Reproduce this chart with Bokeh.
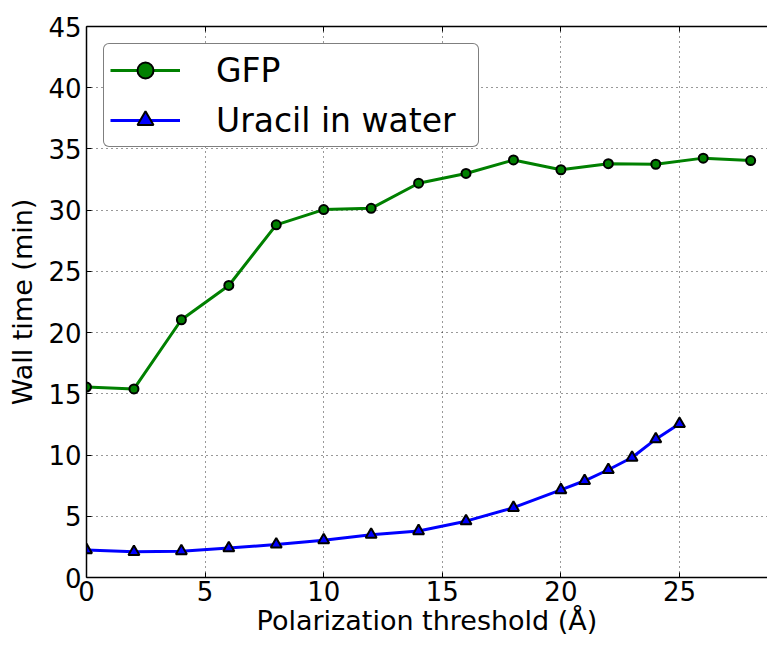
from bokeh.plotting import figure
from bokeh.models import Legend, LegendItem, LinearAxis, FixedTicker, Range1d
from bokeh.embed import file_html
from bokeh.resources import INLINE

# ---- data ----
gfp_x = [0, 2, 4, 6, 8, 10, 12, 14, 16, 18, 20, 22, 24, 26, 28]
gfp_y = [15.55, 15.4, 21.05, 23.85, 28.8, 30.05, 30.15, 32.2, 33.0, 34.1, 33.3, 33.8, 33.75, 34.25, 34.05]

uracil_x = [0, 2, 4, 6, 8, 10, 12, 14, 16, 18, 20, 21, 22, 23, 24, 25]
uracil_y = [2.25, 2.1, 2.15, 2.4, 2.7, 3.05, 3.5, 3.8, 4.6, 5.7, 7.15, 7.9, 8.8, 9.8, 11.3, 12.55]

x_ticks = [0, 5, 10, 15, 20, 25]
y_ticks = [0, 5, 10, 15, 20, 25, 30, 35, 40, 45]

FONT = "DejaVu Sans"

p = figure(width=767, height=645, output_backend="svg", toolbar_location=None,
           x_range=Range1d(0, 28.71), y_range=Range1d(0, 45),
           min_border_left=86, min_border_right=0, min_border_top=26, min_border_bottom=68)
p.outline_line_color = None
p.background_fill_color = "white"
p.border_fill_color = "white"

p.xaxis.axis_label = "Polarization threshold (Å)"
p.yaxis.axis_label = "Wall time (min)"
p.xaxis.ticker = FixedTicker(ticks=x_ticks)
p.yaxis.ticker = FixedTicker(ticks=y_ticks)

for ax in (p.xaxis[0], p.yaxis[0]):
    ax.axis_line_color = "black"
    ax.axis_line_width = 1.5
    ax.major_tick_in = 5
    ax.major_tick_out = 0
    ax.major_tick_line_color = "black"
    ax.major_tick_line_width = 1
    ax.minor_tick_line_color = None
    ax.major_label_text_font = FONT
    ax.major_label_text_font_size = "26px"
    ax.major_label_text_color = "black"
    ax.axis_label_text_font = FONT
    ax.axis_label_text_font_size = "27px"
    ax.axis_label_text_font_style = "normal"
    ax.axis_label_text_color = "black"

p.xaxis.major_label_standoff = 3
p.xaxis.axis_label_standoff = 1
p.yaxis.major_label_standoff = 5
p.yaxis.axis_label_standoff = 7

top = LinearAxis(ticker=FixedTicker(ticks=x_ticks),
                 major_label_overrides={t: "" for t in x_ticks},
                 major_label_text_font_size="1px", major_label_standoff=0,
                 major_tick_in=5, major_tick_out=0, minor_tick_line_color=None,
                 axis_line_color="black", axis_line_width=1.5)
p.add_layout(top, "above")

for g, t in ((p.xgrid[0], x_ticks), (p.ygrid[0], y_ticks)):
    g.ticker = FixedTicker(ticks=t)
    g.grid_line_color = "black"
    g.grid_line_alpha = 0.8
    g.grid_line_width = 1
    g.grid_line_dash = "1 4"

g_line = p.line(gfp_x, gfp_y, line_color="#008000", line_width=3)
g_pts = p.scatter(gfp_x, gfp_y, marker="circle", size=9, fill_color="#008000",
                  line_color="black", line_width=2)
u_line = p.line(uracil_x, uracil_y, line_color="#0000ff", line_width=3)
u_pts = p.scatter(uracil_x, uracil_y, marker="triangle", size=11, fill_color="#0000ff",
                  line_color="black", line_width=2)

def make_legend(margin, shadow):
    labels = [" ", " "] if shadow else ["GFP", "Uracil in water"]
    items = [LegendItem(label=labels[0], renderers=[g_line, g_pts]),
             LegendItem(label=labels[1], renderers=[u_line, u_pts])]
    kw = dict(items=items, location="top_left", margin=margin, padding=6, spacing=10,
              glyph_width=70, glyph_height=40, label_height=40, label_standoff=36,
              label_width=256,
              label_text_font=FONT, label_text_font_size="33px",
              click_policy="none")
    if shadow:
        kw.update(border_line_color=None, background_fill_color="#7f7f7f",
                  background_fill_alpha=0.6)
    else:
        kw.update(border_line_color="black", border_line_width=1.5,
                  background_fill_color="white", background_fill_alpha=1.0,
                  label_text_color="black")
    lg = Legend(**kw)
    if "border_radius" in Legend.properties():
        lg.border_radius = 6
    return lg

p.add_layout(make_legend(20, True), "center")
p.add_layout(make_legend(17, False), "center")

open("out.html", "w").write(file_html(p, INLINE))
